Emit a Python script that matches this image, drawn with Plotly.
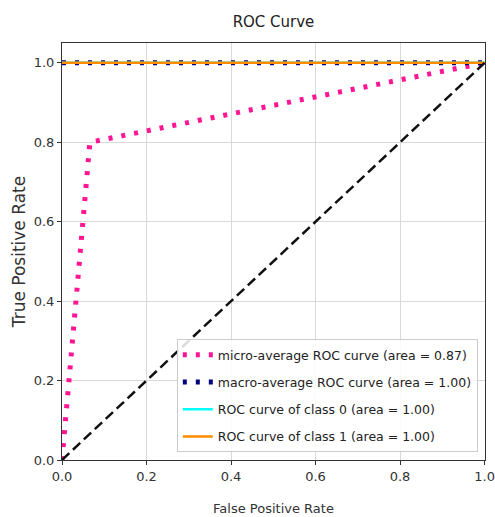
import plotly.graph_objects as go

# ---- data ----
micro_fpr = [0.0, 0.066, 1.0]
micro_tpr = [0.0, 0.80, 1.0]
macro_fpr = [0.0, 1.0]
macro_tpr = [1.0, 1.0]
class0_fpr = [0.0, 1.0]
class0_tpr = [1.0, 1.0]
class1_fpr = [0.0, 1.0]
class1_tpr = [1.0, 1.0]
diag = [0.0, 1.0]
areas = {"micro": 0.87, "macro": 1.00, "c0": 1.00, "c1": 1.00}
ticks = [0.0, 0.2, 0.4, 0.6, 0.8, 1.0]
tick_text = ["0.0", "0.2", "0.4", "0.6", "0.8", "1.0"]

FONT = "DejaVu Sans, sans-serif"

fig = go.Figure()
fig.add_trace(go.Scatter(x=micro_fpr, y=micro_tpr, mode="lines", legendgroup="a",
                         line=dict(color="#FF1493", width=5, dash="4px,9px"),
                         name="micro-average ROC curve (area = %.2f)" % areas["micro"]))
fig.add_trace(go.Scatter(x=macro_fpr, y=macro_tpr, mode="lines", legendgroup="b",
                         line=dict(color="#000080", width=5, dash="4px,9px"),
                         name="macro-average ROC curve (area = %.2f)" % areas["macro"]))
fig.add_trace(go.Scatter(x=class0_fpr, y=class0_tpr, mode="lines", legendgroup="c",
                         line=dict(color="#00FFFF", width=2.5),
                         name="ROC curve of class 0 (area = %.2f)" % areas["c0"]))
fig.add_trace(go.Scatter(x=class1_fpr, y=class1_tpr, mode="lines", legendgroup="d",
                         line=dict(color="#FF8C00", width=2.5),
                         name="ROC curve of class 1 (area = %.2f)" % areas["c1"]))
fig.add_trace(go.Scatter(x=diag, y=diag, mode="lines",
                         line=dict(color="#111111", width=2.5, dash="10px,5px"),
                         showlegend=False))

axis_common = dict(
    showline=True, linecolor="#333333", linewidth=1, mirror=True,
    showgrid=True, gridcolor="#d9d9d9", gridwidth=1,
    ticks="outside", ticklen=4, tickcolor="#333333",
    tickvals=ticks, ticktext=tick_text,
    tickfont=dict(family=FONT, size=13, color="#333333"),
    zeroline=False, automargin=False,
)

fig.update_layout(
    width=495, height=517,
    margin=dict(l=62, r=10, t=43, b=57),
    paper_bgcolor="white", plot_bgcolor="white",
    title=dict(text="ROC Curve", x=0.5, xref="paper", xanchor="center",
               y=1 - 22 / 517, yref="container", yanchor="middle",
               font=dict(family=FONT, size=15, color="#222222")),
    xaxis=dict(range=[0, 1.001], title=dict(text="False Positive Rate", standoff=21,
               font=dict(family=FONT, size=13, color="#333333")), **axis_common),
    yaxis=dict(range=[0, 1.05], title=dict(text="True Positive Rate", standoff=3,
               font=dict(family=FONT, size=17, color="#333333")), **axis_common),
    legend=dict(x=0.983, y=0.019, xanchor="right", yanchor="bottom",
                bgcolor="rgba(255,255,255,0.85)", bordercolor="#cccccc", borderwidth=1,
                font=dict(family=FONT, size=12.5, color="#222222"),
                tracegroupgap=8),
    showlegend=True,
)

fig.write_html("out.html", config={"displayModeBar": False},
               post_script="document.body.style.margin='0px';")
